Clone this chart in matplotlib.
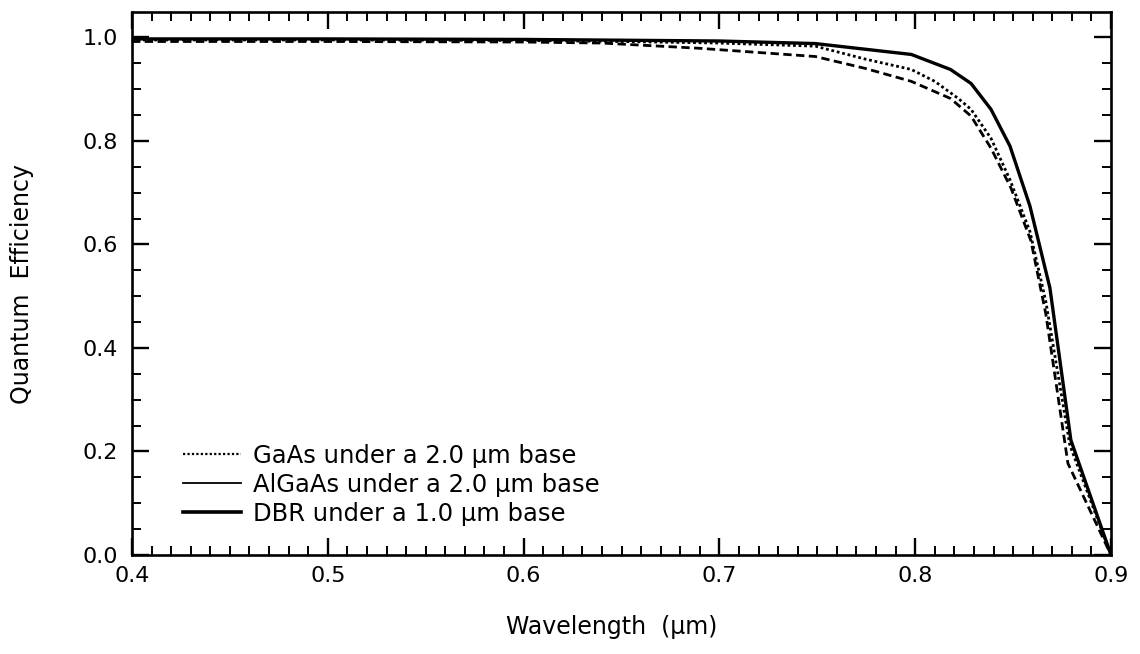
import matplotlib
matplotlib.use("Agg")
import matplotlib.pyplot as plt
from matplotlib.lines import Line2D
from matplotlib.ticker import MultipleLocator, FormatStrFormatter

# Wavelength (um) and quantum efficiency values
wl_gaas = [0.40, 0.50, 0.60, 0.65, 0.70, 0.749, 0.7745, 0.798, 0.810, 0.822, 0.8285, 0.8387, 0.8484, 0.8586, 0.8667, 0.879, 0.90]
qe_gaas = [0.995, 0.995, 0.994, 0.992, 0.989, 0.983, 0.958, 0.938, 0.915, 0.882, 0.861, 0.805, 0.725, 0.625, 0.49, 0.212, 0.0]

wl_algaas = [0.40, 0.50, 0.60, 0.64, 0.6894, 0.749, 0.7745, 0.798, 0.818, 0.8285, 0.8387, 0.8489, 0.8591, 0.8667, 0.878, 0.90]
qe_algaas = [0.992, 0.992, 0.991, 0.989, 0.979, 0.963, 0.940, 0.915, 0.882, 0.848, 0.786, 0.709, 0.607, 0.466, 0.177, 0.0]

wl_dbr = [0.40, 0.50, 0.60, 0.70, 0.749, 0.798, 0.818, 0.8285, 0.8387, 0.8484, 0.8586, 0.8688, 0.8739, 0.8795, 0.90]
qe_dbr = [0.997, 0.997, 0.996, 0.993, 0.988, 0.967, 0.938, 0.911, 0.861, 0.790, 0.674, 0.516, 0.376, 0.222, 0.0]

labels = ["GaAs under a 2.0 \u03bcm base",
          "AlGaAs under a 2.0 \u03bcm base",
          "DBR under a 1.0 \u03bcm base"]
xlabel = "Wavelength  (\u03bcm)"
ylabel = "Quantum  Efficiency"

plt.rcParams['font.family'] = ['DejaVu Sans']

fig = plt.figure(figsize=(11.4, 6.54), dpi=100)
ax = fig.add_axes([132/1140, 1 - 555/654, 979/1140, 543/654])

ax.plot(wl_gaas, qe_gaas, color='black', lw=2.0, linestyle=(0, (1, 1)))
ax.plot(wl_algaas, qe_algaas, color='black', lw=2.0, linestyle=(0, (3, 1.6)))
ax.plot(wl_dbr, qe_dbr, color='black', lw=2.4, linestyle='-')

ax.set_xlim(0.4, 0.9)
ax.set_ylim(0.0, 1.049)
ax.xaxis.set_major_locator(MultipleLocator(0.1))
ax.xaxis.set_minor_locator(MultipleLocator(0.01))
ax.yaxis.set_major_locator(MultipleLocator(0.2))
ax.yaxis.set_minor_locator(MultipleLocator(0.05))
ax.xaxis.set_major_formatter(FormatStrFormatter('%.1f'))
ax.yaxis.set_major_formatter(FormatStrFormatter('%.1f'))

ax.tick_params(which='both', direction='in', top=True, right=True, color='black')
ax.tick_params(which='major', length=12, width=1.7, labelsize=16)
ax.tick_params(which='minor', length=6.5, width=1.4)
ax.tick_params(axis='x', which='major', pad=8)
ax.tick_params(axis='y', which='major', pad=10)
for s in ax.spines.values():
    s.set_linewidth(1.9)

ax.set_xlabel(xlabel, fontsize=17)
ax.xaxis.set_label_coords(0.49, -0.11)
ax.set_ylabel(ylabel, fontsize=17)
ax.yaxis.set_label_coords(-0.10, 0.50)

handles = [Line2D([], [], color='black', lw=1.6, linestyle=(0, (1, 1))),
           Line2D([], [], color='black', lw=1.3, linestyle='-'),
           Line2D([], [], color='black', lw=2.6, linestyle='-')]
ax.legend(handles, labels, loc='lower left', bbox_to_anchor=(0.052, 0.054),
          frameon=False, fontsize=17.5, handlelength=2.4, handletextpad=0.5,
          labelspacing=0.2, borderaxespad=0.0, borderpad=0.0)

fig.savefig("out.png", dpi=100)
